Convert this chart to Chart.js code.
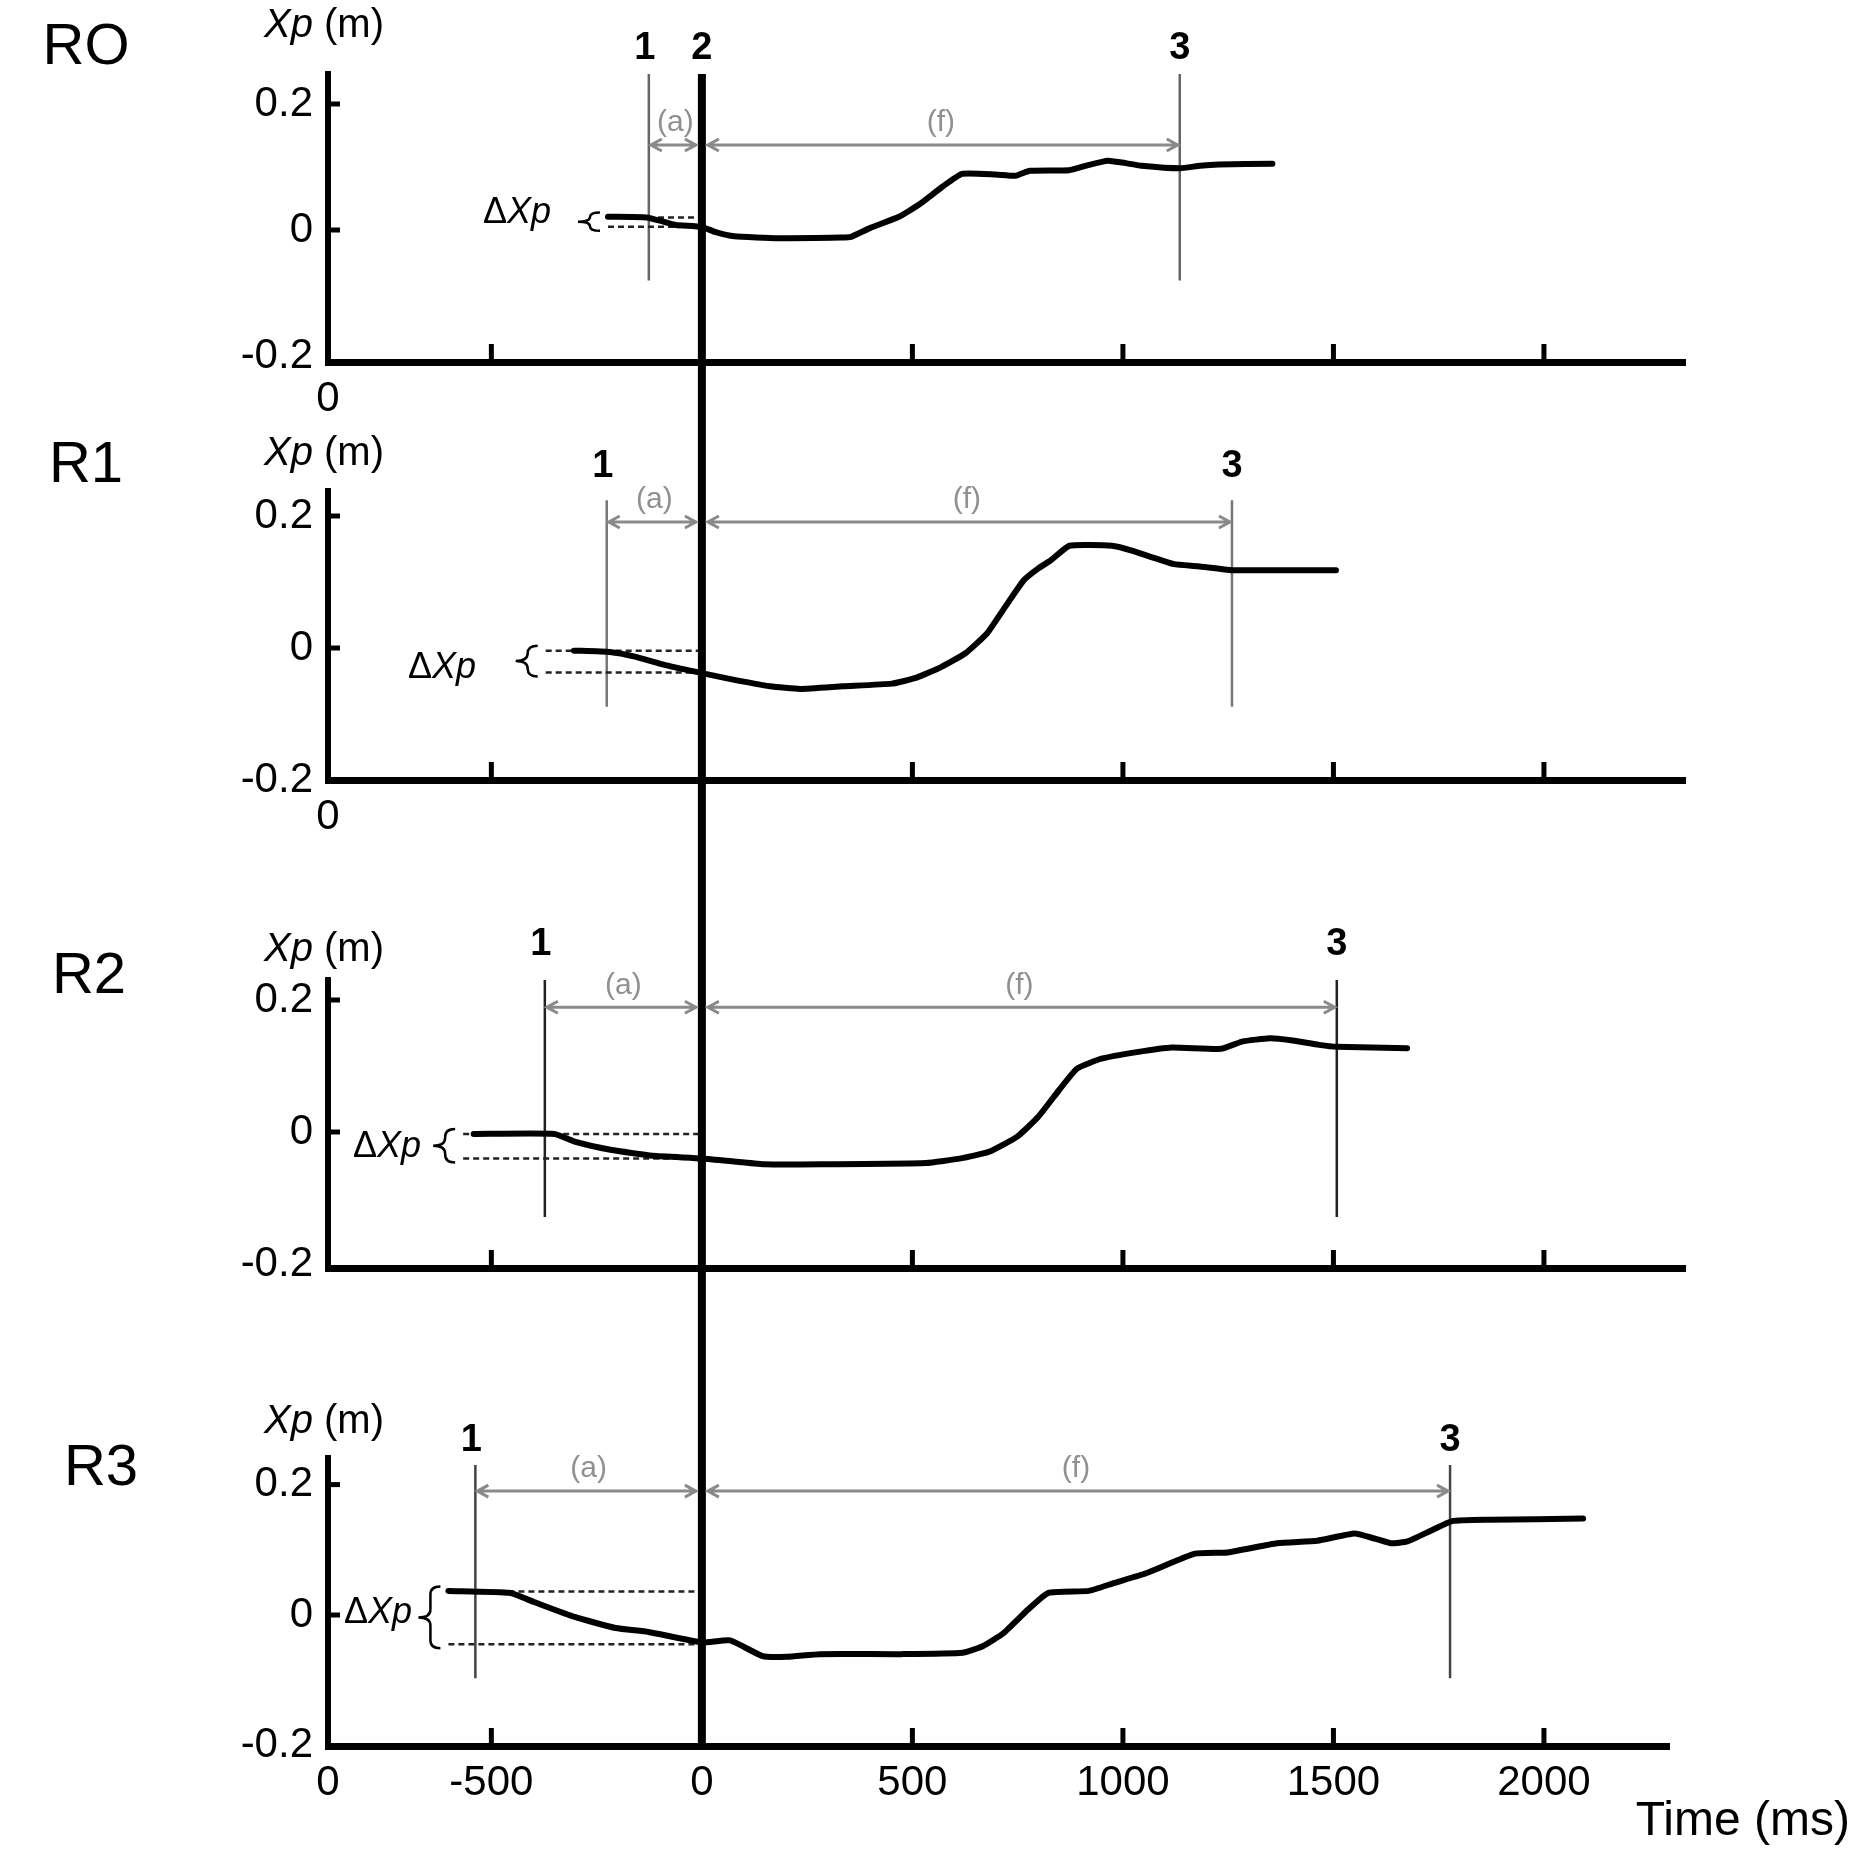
<!DOCTYPE html>
<html>
<head>
<meta charset="utf-8">
<script src="https://cdn.jsdelivr.net/npm/chart.js@4.4.1/dist/chart.umd.min.js"></script>
<style>
  html, body { margin: 0; padding: 0; background: #fff; overflow: hidden; }
  #wrap { position: relative; width: 1856px; height: 1859px; }
  #wrap canvas { position: absolute; left: 0; }
</style>
</head>
<body>
<div id="wrap"></div>
<script>
const FONT = "'Liberation Sans', Arial, sans-serif";
const PAGE_W = 1856;
const AXIS_LEFT = 328;
const X_MIN = -888;

// ---- data (time in ms, Xp in m) ----
const panelNames = ['RO', 'R1', 'R2', 'R3'];

const r0Time = [-223, -131, -90, -62, 0, 31, 77, 181, 330, 354, 399, 468, 515, 572, 618, 698, 745, 779, 872, 917, 964, 998, 1044, 1135, 1183, 1228, 1355];
const r0Xp = [0.021, 0.020, 0.013, 0.008, 0.005, -0.003, -0.010, -0.013, -0.012, -0.011, 0.003, 0.021, 0.040, 0.069, 0.089, 0.088, 0.086, 0.094, 0.095, 0.103, 0.110, 0.107, 0.102, 0.098, 0.102, 0.104, 0.105];

const r1Time = [-304, -219, -159, -87, 0, 74, 162, 233, 335, 451, 510, 568, 626, 677, 720, 765, 800, 829, 873, 974, 1019, 1121, 1178, 1259, 1368, 1506];
const r1Xp = [-0.004, -0.006, -0.013, -0.026, -0.038, -0.048, -0.058, -0.062, -0.058, -0.054, -0.045, -0.029, -0.008, 0.022, 0.062, 0.103, 0.121, 0.133, 0.155, 0.155, 0.148, 0.127, 0.124, 0.118, 0.118, 0.118];

const r2Time = [-542, -350, -300, -217, -117, 0, 83, 150, 283, 532, 615, 682, 749, 799, 849, 891, 949, 1033, 1116, 1233, 1283, 1349, 1399, 1466, 1508, 1675];
const r2Xp = [-0.003, -0.003, -0.015, -0.027, -0.036, -0.040, -0.045, -0.049, -0.049, -0.047, -0.040, -0.030, -0.007, 0.023, 0.064, 0.096, 0.111, 0.121, 0.128, 0.126, 0.137, 0.142, 0.139, 0.132, 0.129, 0.127];

const r3Time = [-602, -457, -399, -302, -205, -127, 0, 67, 144, 202, 280, 474, 619, 667, 716, 774, 823, 919, 978, 1055, 1171, 1249, 1366, 1462, 1550, 1599, 1637, 1676, 1734, 1782, 1869, 2093];
const r3Xp = [0.037, 0.034, 0.020, -0.003, -0.020, -0.026, -0.042, -0.039, -0.063, -0.064, -0.060, -0.060, -0.058, -0.048, -0.028, 0.008, 0.034, 0.037, 0.049, 0.064, 0.094, 0.096, 0.110, 0.114, 0.125, 0.117, 0.110, 0.113, 0.130, 0.144, 0.146, 0.148];

const seriesTime = [r0Time, r1Time, r2Time, r3Time];
const seriesXp = [r0Xp, r1Xp, r2Xp, r3Xp];

const event1Time = [-126, -226, -373, -538];
const event2Time = 0;
const event3Time = [1135, 1259, 1508, 1777];

// ΔXp: start of the dashed guides and the two levels
const dxpStart = [-223, -371, -567, -602];
const dxpHigh = [0.020, -0.004, -0.003, 0.036];
const dxpLow = [0.005, -0.037, -0.040, -0.045];

const xTickValues = [X_MIN, -500, 0, 500, 1000, 1500, 2000];
const xTickMarks = [-500, 500, 1000, 1500, 2000];
const yTickValues = [-0.2, 0, 0.2];
const yTickMarks = [0, 0.2];

// ---- layout (page pixels) ----
const panels = [
  { top: 0,    height: 430, areaTop: 74,   areaBottom: 362,  areaRight: 1685, xMax: 2335, yMin: -0.2095, yMax: 0.2476,
    markTop: 0.2476, markBottom: -0.08, markColor: '#666', arrowY: 0.135, nameXY: [86, 48], unitXY: [324, 26],
    eventLabelY: 49, dxpRight: 551, dxpY: 213, originLabel: true, timeLabels: false },
  { top: 430,  height: 455, areaTop: 491,  areaBottom: 780,  areaRight: 1685, xMax: 2335, yMin: -0.2, yMax: 0.2379,
    markTop: 0.224, markBottom: -0.089, markColor: '#777', arrowY: 0.191, nameXY: [86, 466], unitXY: [324, 454],
    eventLabelY: 467, dxpRight: 476, dxpY: 668, originLabel: true, timeLabels: false },
  { top: 885,  height: 455, areaTop: 980,  areaBottom: 1268, areaRight: 1685, xMax: 2335, yMin: -0.2061, yMax: 0.2303,
    markTop: 0.233, markBottom: -0.129, markColor: '#222', arrowY: 0.189, nameXY: [89, 977], unitXY: [324, 950],
    eventLabelY: 945, dxpRight: 421, dxpY: 1147, originLabel: false, timeLabels: false },
  { top: 1340, height: 519, areaTop: 1458, areaBottom: 1746, areaRight: 1669, xMax: 2297, yMin: -0.2009, yMax: 0.2408,
    markTop: 0.230, markBottom: -0.097, markColor: '#444', arrowY: 0.190, nameXY: [101, 1469], unitXY: [324, 1422],
    eventLabelY: 1441, dxpRight: 412, dxpY: 1613, originLabel: true, timeLabels: true }
];

function textRuns(ctx, runs, x, y, size, align) {
  const fonts = runs.map(r => (r.italic ? 'italic ' : '') + size + 'px ' + FONT);
  let w = 0;
  const ws = runs.map((r, k) => { ctx.font = fonts[k]; const m = ctx.measureText(r.text).width; w += m; return m; });
  let cx = align === 'right' ? x - w : align === 'center' ? x - w / 2 : x;
  ctx.textAlign = 'left';
  ctx.textBaseline = 'middle';
  runs.forEach((r, k) => { ctx.font = fonts[k]; ctx.fillText(r.text, cx, y); cx += ws[k]; });
}

function arrow(ctx, xa, xb, y) {
  const h = 11, s = 6;
  ctx.beginPath();
  ctx.moveTo(xa, y); ctx.lineTo(xb, y);
  ctx.moveTo(xa + h, y - s); ctx.lineTo(xa, y); ctx.lineTo(xa + h, y + s);
  ctx.moveTo(xb - h, y - s); ctx.lineTo(xb, y); ctx.lineTo(xb - h, y + s);
  ctx.stroke();
}

function brace(ctx, xArm, xTip, y1, y2) {
  const xs = xArm - 10;
  const ym = (y1 + y2) / 2;
  const r = Math.min(8, (y2 - y1) / 4);
  ctx.beginPath();
  ctx.moveTo(xArm, y1);
  ctx.quadraticCurveTo(xs, y1, xs, y1 + r);
  ctx.lineTo(xs, ym - r);
  ctx.quadraticCurveTo(xs, ym, xTip, ym);
  ctx.quadraticCurveTo(xs, ym, xs, ym + r);
  ctx.lineTo(xs, y2 - r);
  ctx.quadraticCurveTo(xs, y2, xArm, y2);
  ctx.stroke();
}

const annotate = {
  id: 'annotate',
  afterDatasetsDraw(chart, args, opts) {
    const i = opts.index;
    const p = panels[i];
    const { ctx, chartArea } = chart;
    const sx = chart.scales.x, sy = chart.scales.y;
    const last = i === panels.length - 1;
    ctx.save();

    // thick event-2 line crossing all panels
    const x2 = sx.getPixelForValue(event2Time);
    ctx.strokeStyle = '#000';
    ctx.lineWidth = 8;
    ctx.beginPath();
    ctx.moveTo(x2, i === 0 ? chartArea.top : 0);
    ctx.lineTo(x2, last ? chartArea.bottom + 3 : chart.height);
    ctx.stroke();

    // inward tick marks
    ctx.lineWidth = 5;
    xTickMarks.forEach(v => {
      const x = sx.getPixelForValue(v);
      ctx.beginPath(); ctx.moveTo(x, chartArea.bottom); ctx.lineTo(x, chartArea.bottom - 18); ctx.stroke();
    });
    yTickMarks.forEach(v => {
      const y = sy.getPixelForValue(v);
      ctx.beginPath(); ctx.moveTo(chartArea.left, y); ctx.lineTo(chartArea.left + 12, y); ctx.stroke();
    });

    // (a) and (f) intervals
    const x1 = sx.getPixelForValue(event1Time[i]);
    const x3 = sx.getPixelForValue(event3Time[i]);
    const ya = sy.getPixelForValue(p.arrowY);
    ctx.strokeStyle = '#8a8a8a';
    ctx.lineWidth = 3;
    arrow(ctx, x1 + 2, x2 - 6, ya);
    arrow(ctx, x2 + 6, x3 - 2, ya);
    ctx.fillStyle = '#909090';
    textRuns(ctx, [{ text: '(a)' }], (x1 + x2) / 2, ya - 22, 30, 'center');
    textRuns(ctx, [{ text: '(f)' }], (x2 + x3) / 2, ya - 22, 30, 'center');

    // event numbers
    ctx.fillStyle = '#000';
    ctx.font = 'bold 38px ' + FONT;
    ctx.textAlign = 'center';
    ctx.textBaseline = 'middle';
    const ly = p.eventLabelY - p.top;
    ctx.fillText('1', x1 - 4, ly);
    ctx.fillText('3', x3, ly);
    if (i === 0) ctx.fillText('2', x2, ly);

    // panel name and y unit
    ctx.font = '58px ' + FONT;
    ctx.fillText(panelNames[i], p.nameXY[0], p.nameXY[1] - p.top);
    textRuns(ctx, [{ text: 'Xp', italic: true }, { text: ' (m)' }], p.unitXY[0], p.unitXY[1] - p.top, 40, 'center');

    // ΔXp brace and text
    const xs = sx.getPixelForValue(dxpStart[i]);
    const yh = sy.getPixelForValue(dxpHigh[i]);
    const yl = sy.getPixelForValue(dxpLow[i]);
    ctx.strokeStyle = '#000';
    ctx.lineWidth = 2.5;
    brace(ctx, xs - 8, xs - 30, yh - 5, yl + 4);
    textRuns(ctx, [{ text: 'Δ' }, { text: 'Xp', italic: true }], p.dxpRight, p.dxpY - p.top, 36, 'right');

    if (last) {
      ctx.font = '48px ' + FONT;
      ctx.textAlign = 'right';
      ctx.fillText('Time (ms)', 1850, 1822 - p.top);
    }
    ctx.restore();
  }
};

function makeChart(i) {
  const p = panels[i];
  const canvas = document.createElement('canvas');
  canvas.width = PAGE_W;
  canvas.height = p.height;
  canvas.style.top = p.top + 'px';
  canvas.style.width = PAGE_W + 'px';
  canvas.style.height = p.height + 'px';
  document.getElementById('wrap').appendChild(canvas);

  const curve = seriesTime[i].map((t, k) => ({ x: t, y: seriesXp[i][k] }));
  const thin = { pointRadius: 0, borderWidth: 2.5, fill: false };

  new Chart(canvas, {
    type: 'line',
    data: {
      datasets: [
        { data: curve, borderColor: '#000', borderWidth: 6, pointRadius: 0, tension: 0.15,
          borderCapStyle: 'round', borderJoinStyle: 'round', fill: false },
        Object.assign({ data: [{ x: dxpStart[i], y: dxpHigh[i] }, { x: event2Time, y: dxpHigh[i] }],
          borderColor: '#222', borderDash: [6, 4] }, thin),
        Object.assign({ data: [{ x: dxpStart[i], y: dxpLow[i] }, { x: event2Time, y: dxpLow[i] }],
          borderColor: '#222', borderDash: [6, 4] }, thin),
        Object.assign({ data: [{ x: event1Time[i], y: p.markTop }, { x: event1Time[i], y: p.markBottom }],
          borderColor: p.markColor }, thin),
        Object.assign({ data: [{ x: event3Time[i], y: p.markTop }, { x: event3Time[i], y: p.markBottom }],
          borderColor: p.markColor }, thin)
      ]
    },
    options: {
      responsive: false,
      maintainAspectRatio: false,
      animation: false,
      layout: { padding: { top: p.areaTop - p.top, right: PAGE_W - p.areaRight, bottom: 0, left: 0 } },
      plugins: { legend: { display: false }, tooltip: { enabled: false }, annotate: { index: i } },
      scales: {
        x: {
          type: 'linear',
          min: X_MIN,
          max: p.xMax,
          afterBuildTicks: s => { s.ticks = xTickValues.map(v => ({ value: v })); },
          afterFit: s => { s.height = p.top + p.height - p.areaBottom; },
          grid: { display: false, drawTicks: false },
          border: { display: true, color: '#000', width: 7 },
          ticks: {
            autoSkip: false, maxRotation: 0, padding: 12, color: '#000',
            font: { family: FONT, size: 42 },
            callback: v => v === X_MIN ? (p.originLabel ? '0' : '') : (p.timeLabels ? String(v) : '')
          }
        },
        y: {
          type: 'linear',
          min: p.yMin,
          max: p.yMax,
          afterBuildTicks: s => { s.ticks = yTickValues.map(v => ({ value: v })); },
          afterFit: s => { s.width = AXIS_LEFT; },
          grid: { display: false, drawTicks: false },
          border: { display: true, color: '#000', width: 6 },
          ticks: {
            padding: 15, color: '#000',
            font: { family: FONT, size: 42 },
            callback: v => v === 0 ? '0' : v.toFixed(1)
          }
        }
      }
    },
    plugins: [annotate]
  });
}

panels.forEach((p, i) => makeChart(i));
</script>
</body>
</html>
